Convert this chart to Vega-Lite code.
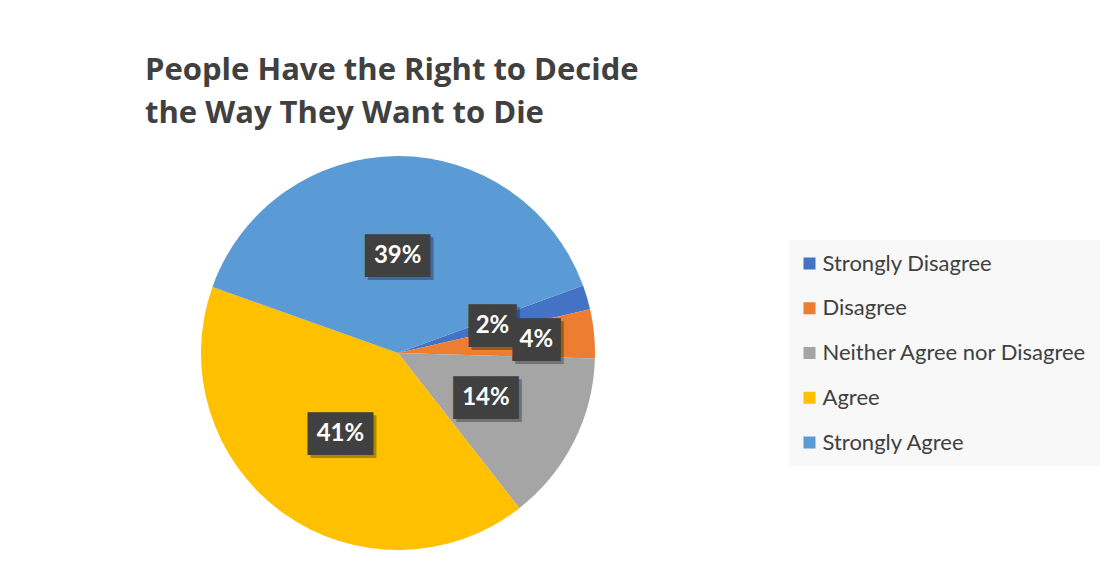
{
  "$schema": "https://vega.github.io/schema/vega-lite/v6.json",
  "width": 506,
  "height": 404,
  "padding": {"left": 145, "top": 55, "right": 5, "bottom": 5},
  "background": "white",
  "title": {
    "text": ["People Have the Right to Decide", "the Way They Want to Die"],
    "anchor": "start",
    "frame": "group",
    "font": "Open Sans",
    "fontSize": 31,
    "fontWeight": "bold",
    "color": "#404040",
    "lineHeight": 43,
    "offset": 21
  },
  "data": {
    "values": [
      {"category": "Strongly Disagree", "share": 0.02, "rank": 1},
      {"category": "Disagree", "share": 0.04, "rank": 2},
      {"category": "Neither Agree nor Disagree", "share": 0.14, "rank": 3},
      {"category": "Agree", "share": 0.41, "rank": 4},
      {"category": "Strongly Agree", "share": 0.39, "rank": 5}
    ]
  },
  "encoding": {
    "theta": {"field": "share", "type": "quantitative", "stack": true, "scale": {"range": [1.2217, 7.5049]}},
    "order": {"field": "rank", "type": "ordinal"}
  },
  "layer": [
    {
      "mark": {"type": "arc", "outerRadius": 197},
      "encoding": {
        "color": {
          "field": "category",
          "type": "nominal",
          "scale": {
            "domain": ["Strongly Disagree", "Disagree", "Neither Agree nor Disagree", "Agree", "Strongly Agree"],
            "range": ["#4472C4", "#ED7D31", "#A5A5A5", "#FFC000", "#5B9BD5"]
          },
          "legend": {
            "orient": "none",
            "legendX": 644,
            "legendY": 89,
            "title": null,
            "symbolType": "square",
            "symbolSize": 144,
            "symbolStrokeWidth": 0,
            "symbolOffset": -3,
            "labelFont": "Lato",
            "labelFontSize": 22,
            "labelColor": "#404040",
            "rowPadding": 22.75,
            "padding": 12.5,
            "fillColor": "#f8f8f8",
            "labelOffset": 2,
            "labelLimit": 400
          }
        }
      }
    },
    {
      "mark": {"type": "text", "radius": 98.5, "font": "DejaVu Sans Mono", "fontSize": 36, "color": "#000000", "align": "center", "baseline": "middle", "dx": 3, "dy": 5},
      "encoding": {
        "detail": {"field": "category"},
        "text": {"condition": {"test": "datum.share < 0.1", "value": "▕██▏"}, "value": "███"},
        "opacity": {"condition": {"test": "datum.category === 'Disagree'", "value": 0}, "value": 0.3}
      }
    },
    {
      "mark": {"type": "text", "radius": 98.5, "font": "DejaVu Sans Mono", "fontSize": 36, "color": "#404040", "align": "center", "baseline": "middle", "dy": 2},
      "encoding": {
        "detail": {"field": "category"},
        "text": {"condition": {"test": "datum.share < 0.1", "value": "▕██▏"}, "value": "███"},
        "opacity": {"condition": {"test": "datum.category === 'Disagree'", "value": 0}, "value": 1}
      }
    },
    {
      "mark": {"type": "text", "radius": 98.5, "font": "Lato", "fontSize": 24, "fontWeight": "bold", "color": "white", "align": "center", "baseline": "middle", "dy": 1},
      "encoding": {
        "detail": {"field": "category"},
        "text": {"field": "share", "type": "quantitative", "format": ".0%"},
        "opacity": {"condition": {"test": "datum.category === 'Disagree'", "value": 0}, "value": 1}
      }
    },
    {
      "mark": {"type": "text", "radius": 139, "font": "DejaVu Sans Mono", "fontSize": 36, "color": "#000000", "align": "center", "baseline": "middle", "dx": 3, "dy": 5},
      "encoding": {
        "detail": {"field": "category"},
        "text": {"value": "▕██▏"},
        "opacity": {"condition": {"test": "datum.category === 'Disagree'", "value": 0.3}, "value": 0}
      }
    },
    {
      "mark": {"type": "text", "radius": 139, "font": "DejaVu Sans Mono", "fontSize": 36, "color": "#404040", "align": "center", "baseline": "middle", "dy": 2},
      "encoding": {
        "detail": {"field": "category"},
        "text": {"value": "▕██▏"},
        "opacity": {"condition": {"test": "datum.category === 'Disagree'", "value": 1}, "value": 0}
      }
    },
    {
      "mark": {"type": "text", "radius": 139, "font": "Lato", "fontSize": 24, "fontWeight": "bold", "color": "white", "align": "center", "baseline": "middle", "dy": 1},
      "encoding": {
        "detail": {"field": "category"},
        "text": {"field": "share", "type": "quantitative", "format": ".0%"},
        "opacity": {"condition": {"test": "datum.category === 'Disagree'", "value": 1}, "value": 0}
      }
    }
  ],
  "config": {"view": {"stroke": null}}
}
